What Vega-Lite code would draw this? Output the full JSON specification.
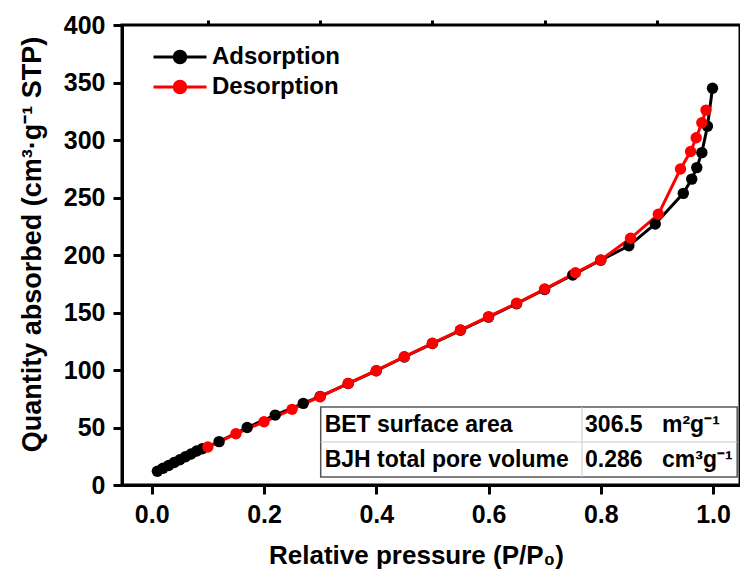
{
  "$schema": "https://vega.github.io/schema/vega-lite/v6.json",
  "autosize": "none",
  "width": 618,
  "height": 460,
  "padding": {"left": 122, "top": 25, "right": 0, "bottom": 91},
  "background": "white",
  "config": {
    "view": {"stroke": "black", "strokeWidth": 3},
    "font": "Liberation Sans",
    "axis": {
      "grid": false,
      "domainColor": "black",
      "domainWidth": 3,
      "tickColor": "black",
      "tickWidth": 3,
      "labelFont": "Liberation Sans",
      "labelFontWeight": "bold",
      "labelFontSize": 25,
      "labelColor": "black",
      "titleFont": "Liberation Sans",
      "titleFontWeight": "bold",
      "titleFontSize": 26,
      "titleColor": "black"
    },
    "legend": {
      "labelFont": "Liberation Sans",
      "labelFontWeight": "bold",
      "labelFontSize": 23,
      "labelColor": "black"
    }
  },
  "datasets": {
    "iso": [
      {"series": "Adsorption", "p": 0.01, "q": 12.0},
      {"series": "Adsorption", "p": 0.02, "q": 14.5},
      {"series": "Adsorption", "p": 0.03, "q": 17.0},
      {"series": "Adsorption", "p": 0.04, "q": 19.5},
      {"series": "Adsorption", "p": 0.05, "q": 22.0},
      {"series": "Adsorption", "p": 0.06, "q": 24.5},
      {"series": "Adsorption", "p": 0.07, "q": 27.0},
      {"series": "Adsorption", "p": 0.08, "q": 29.5},
      {"series": "Adsorption", "p": 0.09, "q": 31.5},
      {"series": "Adsorption", "p": 0.12, "q": 37.7},
      {"series": "Adsorption", "p": 0.17, "q": 50.0},
      {"series": "Adsorption", "p": 0.22, "q": 60.8},
      {"series": "Adsorption", "p": 0.27, "q": 71.0},
      {"series": "Adsorption", "p": 0.30, "q": 77.0},
      {"series": "Adsorption", "p": 0.35, "q": 88.2},
      {"series": "Adsorption", "p": 0.40, "q": 99.4},
      {"series": "Adsorption", "p": 0.45, "q": 111.3},
      {"series": "Adsorption", "p": 0.50, "q": 123.0},
      {"series": "Adsorption", "p": 0.55, "q": 134.5},
      {"series": "Adsorption", "p": 0.60, "q": 146.0},
      {"series": "Adsorption", "p": 0.65, "q": 157.6},
      {"series": "Adsorption", "p": 0.70, "q": 170.0},
      {"series": "Adsorption", "p": 0.75, "q": 182.6},
      {"series": "Adsorption", "p": 0.80, "q": 195.5},
      {"series": "Adsorption", "p": 0.85, "q": 208.0},
      {"series": "Adsorption", "p": 0.897, "q": 227.0},
      {"series": "Adsorption", "p": 0.947, "q": 253.6},
      {"series": "Adsorption", "p": 0.962, "q": 266.0},
      {"series": "Adsorption", "p": 0.971, "q": 276.0},
      {"series": "Adsorption", "p": 0.98, "q": 289.0},
      {"series": "Adsorption", "p": 0.99, "q": 312.0},
      {"series": "Adsorption", "p": 0.999, "q": 345.0},
      {"series": "Desorption", "p": 0.9875, "q": 326.0},
      {"series": "Desorption", "p": 0.98, "q": 315.0},
      {"series": "Desorption", "p": 0.97, "q": 302.0},
      {"series": "Desorption", "p": 0.96, "q": 290.0},
      {"series": "Desorption", "p": 0.942, "q": 274.8},
      {"series": "Desorption", "p": 0.9025, "q": 235.4},
      {"series": "Desorption", "p": 0.853, "q": 214.5},
      {"series": "Desorption", "p": 0.80, "q": 195.7},
      {"series": "Desorption", "p": 0.755, "q": 184.6},
      {"series": "Desorption", "p": 0.70, "q": 170.4},
      {"series": "Desorption", "p": 0.65, "q": 158.0},
      {"series": "Desorption", "p": 0.60, "q": 146.4},
      {"series": "Desorption", "p": 0.55, "q": 134.8},
      {"series": "Desorption", "p": 0.50, "q": 123.2},
      {"series": "Desorption", "p": 0.45, "q": 111.6},
      {"series": "Desorption", "p": 0.40, "q": 99.4},
      {"series": "Desorption", "p": 0.35, "q": 88.4},
      {"series": "Desorption", "p": 0.30, "q": 76.8},
      {"series": "Desorption", "p": 0.25, "q": 65.8},
      {"series": "Desorption", "p": 0.20, "q": 55.0},
      {"series": "Desorption", "p": 0.15, "q": 44.5},
      {"series": "Desorption", "p": 0.10, "q": 33.0}
    ],
    "one": [{}]
  },
  "resolve": {"axis": {"x": "independent", "y": "independent"}},
  "layer": [
    {
      "data": {"name": "iso"},
      "mark": {"type": "line", "strokeWidth": 3},
      "encoding": {
        "x": {
          "field": "p", "type": "quantitative",
          "scale": {"domain": [-0.053, 1.048], "nice": false, "zero": false},
          "axis": {
            "values": [0, 0.2, 0.4, 0.6, 0.8, 1.0],
            "format": ".1f",
            "tickSize": 9,
            "labelPadding": 8,
            "title": "Relative pressure (P/P₀)",
            "titleX": 294,
            "titleY": 78,
            "titleAlign": "center",
            "titleBaseline": "alphabetic",
            "titleAnchor": null
          }
        },
        "y": {
          "field": "q", "type": "quantitative",
          "scale": {"domain": [0, 400], "nice": false},
          "axis": {
            "values": [0, 50, 100, 150, 200, 250, 300, 350, 400],
            "tickSize": 9,
            "labelPadding": 8,
            "title": "Quantity absorbed (cm³·g⁻¹ STP)",
            "titleFontSize": 27,
            "titleX": -82,
            "titleY": 219,
            "titleAngle": -90,
            "titleAlign": "center",
            "titleBaseline": "alphabetic",
            "titleAnchor": null
          }
        },
        "color": {
          "field": "series", "type": "nominal",
          "scale": {"domain": ["Adsorption", "Desorption"], "range": ["#000000", "#ff0000"]},
          "legend": {
            "title": null,
            "orient": "none",
            "legendX": 46,
            "legendY": 20,
            "symbolType": "M-5.3,0L5.3,0M-1.15,0A1.15,1.15,0,1,1,1.15,0A1.15,1.15,0,1,1,-1.15,0Z",
            "symbolSize": 100,
            "symbolStrokeWidth": 3,
            "labelOffset": 20,
            "labelFontSize": 24,
            "rowPadding": 6,
            "encode": {
              "symbols": {
                "update": {
                  "fill": {"scale": "color", "field": "value"},
                  "stroke": {"scale": "color", "field": "value"},
                  "opacity": {"value": 1}
                }
              }
            }
          }
        }
      }
    },
    {
      "data": {"name": "iso"},
      "mark": {"type": "point", "filled": true, "size": 130, "opacity": 1},
      "encoding": {
        "x": {
          "field": "p", "type": "quantitative",
          "axis": {
            "values": [0.1, 0.3, 0.5, 0.7, 0.9],
            "labels": false, "domain": false, "tickSize": 5, "title": null
          }
        },
        "y": {
          "field": "q", "type": "quantitative",
          "axis": {
            "values": [25, 75, 125, 175, 225, 275, 325, 375],
            "labels": false, "domain": false, "tickSize": 5, "title": null
          }
        },
        "color": {"field": "series", "type": "nominal"}
      }
    },
    {
      "data": {"name": "one"},
      "mark": {"type": "rect", "fill": "white", "stroke": "#555555", "strokeWidth": 1.5},
      "encoding": {
        "x": {"datum": 0.301, "type": "quantitative", "axis": null},
        "x2": {"datum": 1.043},
        "y": {"datum": 7, "type": "quantitative", "axis": null},
        "y2": {"datum": 67.8}
      }
    },
    {
      "data": {"name": "one"},
      "mark": {"type": "rule", "stroke": "#cccccc", "strokeWidth": 1},
      "encoding": {
        "x": {"datum": 0.301, "type": "quantitative", "axis": null},
        "x2": {"datum": 1.043},
        "y": {"datum": 37.4, "type": "quantitative", "axis": null}
      }
    },
    {
      "data": {"name": "one"},
      "mark": {"type": "rule", "stroke": "#cccccc", "strokeWidth": 1},
      "encoding": {
        "x": {"datum": 0.7665, "type": "quantitative", "axis": null},
        "y": {"datum": 7, "type": "quantitative", "axis": null},
        "y2": {"datum": 67.8}
      }
    },
    {
      "data": {"name": "one"},
      "mark": {"type": "text", "text": "BET surface area", "align": "left", "baseline": "middle", "fontSize": 23, "fontWeight": "bold", "font": "Liberation Sans", "color": "black"},
      "encoding": {
        "x": {"datum": 0.308, "type": "quantitative", "axis": null},
        "y": {"datum": 52.5, "type": "quantitative", "axis": null}
      }
    },
    {
      "data": {"name": "one"},
      "mark": {"type": "text", "text": "BJH total pore volume", "align": "left", "baseline": "middle", "fontSize": 23, "fontWeight": "bold", "font": "Liberation Sans", "color": "black"},
      "encoding": {
        "x": {"datum": 0.308, "type": "quantitative", "axis": null},
        "y": {"datum": 21.5, "type": "quantitative", "axis": null}
      }
    },
    {
      "data": {"name": "one"},
      "mark": {"type": "text", "text": "306.5", "align": "left", "baseline": "middle", "fontSize": 23, "fontWeight": "bold", "font": "Liberation Sans", "color": "black"},
      "encoding": {
        "x": {"datum": 0.772, "type": "quantitative", "axis": null},
        "y": {"datum": 52.5, "type": "quantitative", "axis": null}
      }
    },
    {
      "data": {"name": "one"},
      "mark": {"type": "text", "text": "0.286", "align": "left", "baseline": "middle", "fontSize": 23, "fontWeight": "bold", "font": "Liberation Sans", "color": "black"},
      "encoding": {
        "x": {"datum": 0.772, "type": "quantitative", "axis": null},
        "y": {"datum": 21.5, "type": "quantitative", "axis": null}
      }
    },
    {
      "data": {"name": "one"},
      "mark": {"type": "text", "text": "m²g⁻¹", "align": "left", "baseline": "middle", "fontSize": 23, "fontWeight": "bold", "font": "Liberation Sans", "color": "black"},
      "encoding": {
        "x": {"datum": 0.909, "type": "quantitative", "axis": null},
        "y": {"datum": 52.5, "type": "quantitative", "axis": null}
      }
    },
    {
      "data": {"name": "one"},
      "mark": {"type": "text", "text": "cm³g⁻¹", "align": "left", "baseline": "middle", "fontSize": 23, "fontWeight": "bold", "font": "Liberation Sans", "color": "black"},
      "encoding": {
        "x": {"datum": 0.909, "type": "quantitative", "axis": null},
        "y": {"datum": 21.5, "type": "quantitative", "axis": null}
      }
    }
  ]
}
